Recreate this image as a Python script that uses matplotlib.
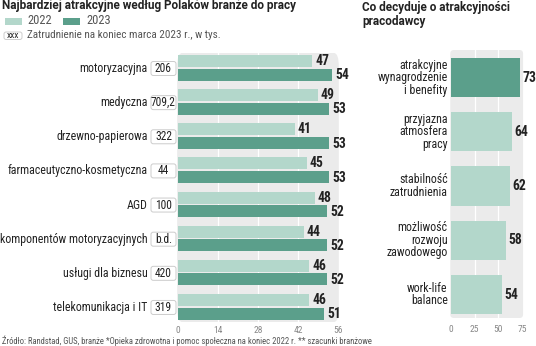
import matplotlib
matplotlib.use("Agg")
import matplotlib.pyplot as plt
from matplotlib.patches import FancyBboxPatch, Rectangle
from matplotlib import font_manager

names = {f.name for f in font_manager.fontManager.ttflist}
COND = None
for cand in ['Roboto Condensed', 'Liberation Sans Narrow', 'Open Sans Condensed']:
    if cand in names:
        COND = cand
        break
SC = 1.0 if COND else 0.87
BASE = COND if COND else 'Roboto'
plt.rcParams['font.family'] = [BASE, 'DejaVu Sans']
TITLE_FAM = ['Roboto', 'DejaVu Sans']

# ---- data ----
categories = ["motoryzacyjna", "medyczna", "drzewno-papierowa", "farmaceutyczno-kosmetyczna",
              "AGD", "komponentów motoryzacyjnych", "usługi dla biznesu", "telekomunikacja i IT"]
employment = ["206", "709,2", "322", "44", "100", "b.d.", "420", "319"]
v2022 = [47, 49, 41, 45, 48, 44, 46, 46]
v2023 = [54, 53, 53, 53, 52, 52, 52, 51]
left_ticks = [0, 14, 28, 42, 56]

factors = ["atrakcyjne\nwynagrodzenie\ni benefity", "przyjazna\natmosfera\npracy",
           "stabilność\nzatrudnienia", "możliwość\nrozwoju\nzawodowego", "work-life\nbalance"]
factor_vals = [73, 64, 62, 58, 54]
right_ticks = [0, 25, 50, 75]

LIGHT = '#b3d7cb'
DARK = '#5b9f8b'
BG = '#ebebeb'
TXT = '#222222'
GRAYTXT = '#555555'
TICK = '#888888'

W, H = 536, 346
fig = plt.figure(figsize=(W / 100, H / 100), dpi=100)

def fx(px):
    return px / W

def fy(py):
    return 1 - py / H

# ---- left axes ----
axL = fig.add_axes([fx(178), fy(322), fx(338) - fx(178), fy(53) - fy(322)])
axL.set_xlim(0, 56)
axL.set_ylim(7.446, -0.434)
axL.patch.set_visible(False)
for s in axL.spines.values():
    s.set_visible(False)
bg = FancyBboxPatch((-0.005, 0), 1.01, 1, boxstyle="round,pad=0,rounding_size=0.03",
                    transform=axL.transAxes, facecolor=BG, edgecolor='none', zorder=0, clip_on=False,
                    mutation_aspect=1.7)
axL.add_patch(bg)
for t in left_ticks[1:-1]:
    axL.axvline(t, color='white', lw=0.9, zorder=1)
ys = list(range(len(categories)))
off = 0.2
bh = 0.35
axL.barh([y - off for y in ys], v2022, height=bh, color=LIGHT, zorder=2)
axL.barh([y + off for y in ys], v2023, height=bh, color=DARK, zorder=2)
for y, a, b in zip(ys, v2022, v2023):
    axL.text(a + 1.0, y - off, str(a), va='center', ha='left', fontsize=9.8 * SC,
             fontweight='bold', color=TXT)
    axL.text(b + 1.2, y + off + 0.02, str(b), va='center', ha='left', fontsize=9.8 * SC,
             fontweight='bold', color=TXT)
axL.set_xticks(left_ticks)
axL.set_xticklabels([str(t) for t in left_ticks], fontsize=6.8, color=TICK)
axL.tick_params(axis='x', length=0, pad=3)
axL.set_yticks([])
bx0, bx1 = (151 - 178) / 2.857, (176 - 178) / 2.857
bhh = 14 / 34.14
for y, c, e in zip(ys, categories, employment):
    axL.text(-10.6, y + 0.02, c, ha='right', va='center', fontsize=8.6 * SC, color=TXT)
    box = FancyBboxPatch((bx0, y + 0.02 - bhh / 2), bx1 - bx0, bhh,
                         boxstyle="round,pad=0,rounding_size=0.8", mutation_aspect=0.084,
                         facecolor='white', edgecolor='#cccccc', lw=0.7, clip_on=False, zorder=3)
    axL.add_patch(box)
    axL.text((bx0 + bx1) / 2, y + 0.02, e, ha='center', va='center', fontsize=8.3 * SC, color=TXT,
             zorder=4, clip_on=False)

# ---- right axes ----
axR = fig.add_axes([fx(451), fy(318), fx(522) - fx(451), fy(50) - fy(318)])
axR.set_xlim(0, 75)
axR.set_ylim(4.433, -0.507)
axR.patch.set_visible(False)
for s in axR.spines.values():
    s.set_visible(False)
bg2 = FancyBboxPatch((-0.01, 0), 1.025, 1, boxstyle="round,pad=0,rounding_size=0.05",
                     transform=axR.transAxes, facecolor=BG, edgecolor='none', zorder=0, clip_on=False,
                     mutation_aspect=0.27)
axR.add_patch(bg2)
for t in right_ticks[1:-1]:
    axR.axvline(t, color='white', lw=0.9, zorder=1)
ry = list(range(len(factors)))
cols = [DARK] + [LIGHT] * (len(factors) - 1)
axR.barh(ry, factor_vals, height=0.72, color=cols, zorder=2)
for y, v in zip(ry, factor_vals):
    axR.text(v + 2.8, y, str(v), va='center', ha='left', fontsize=9.8 * SC, fontweight='bold', color=TXT)
for y, f in zip(ry, factors):
    axR.text(-3.5, y, f, ha='right', va='center', fontsize=8.6 * SC, color=TXT,
             multialignment='right', linespacing=0.95)
axR.set_xticks(right_ticks)
axR.set_xticklabels([str(t) for t in right_ticks], fontsize=6.8, color=TICK)
axR.tick_params(axis='x', length=0, pad=5)
axR.set_yticks([])

# ---- titles / legend ----
fig.text(fx(2), fy(6), "Najbardziej atrakcyjne według Polaków branże do pracy", fontsize=8.5,
         fontweight='bold', color=TXT, va='center', ha='left', family=TITLE_FAM)
fig.text(fx(362), fy(7), "Co decyduje o atrakcyjności", fontsize=8.5,
         fontweight='bold', color=TXT, va='center', ha='left', family=TITLE_FAM)
fig.text(fx(362), fy(21), "pracodawcy", fontsize=8.5,
         fontweight='bold', color=TXT, va='center', ha='left', family=TITLE_FAM)

fig.patches.append(Rectangle((fx(5), fy(24.5)), fx(17), 6.5 / H, transform=fig.transFigure,
                             facecolor=LIGHT, edgecolor='none'))
fig.text(fx(27), fy(21), "2022", fontsize=9 * SC, color=GRAYTXT, va='center', ha='left')
fig.patches.append(Rectangle((fx(63), fy(24.5)), fx(17), 6.5 / H, transform=fig.transFigure,
                             facecolor=DARK, edgecolor='none'))
fig.text(fx(86), fy(21), "2023", fontsize=9 * SC, color=GRAYTXT, va='center', ha='left')
fig.patches.append(FancyBboxPatch((fx(4), fy(39.5)), fx(18), 7.5 / H, transform=fig.transFigure,
                                  boxstyle="round,pad=0,rounding_size=0.004", mutation_aspect=1.5,
                                  facecolor='white', edgecolor='#cccccc', lw=0.7))
fig.text(fx(13), fy(35.6), "xxx", fontsize=6.8, color=TXT, va='center', ha='center')
fig.text(fx(27), fy(35.5), "Zatrudnienie na koniec marca 2023 r., w tys.", fontsize=8.0 * SC,
         color=GRAYTXT, va='center', ha='left')

fig.text(fx(2), fy(340.5), "Źródło: Randstad, GUS, branże *Opieka zdrowotna i pomoc społeczna na koniec 2022 r. ** szacunki branżowe",
         fontsize=6.2 * SC, color=GRAYTXT, va='center', ha='left')

fig.savefig("out.png", dpi=100, facecolor='white')
